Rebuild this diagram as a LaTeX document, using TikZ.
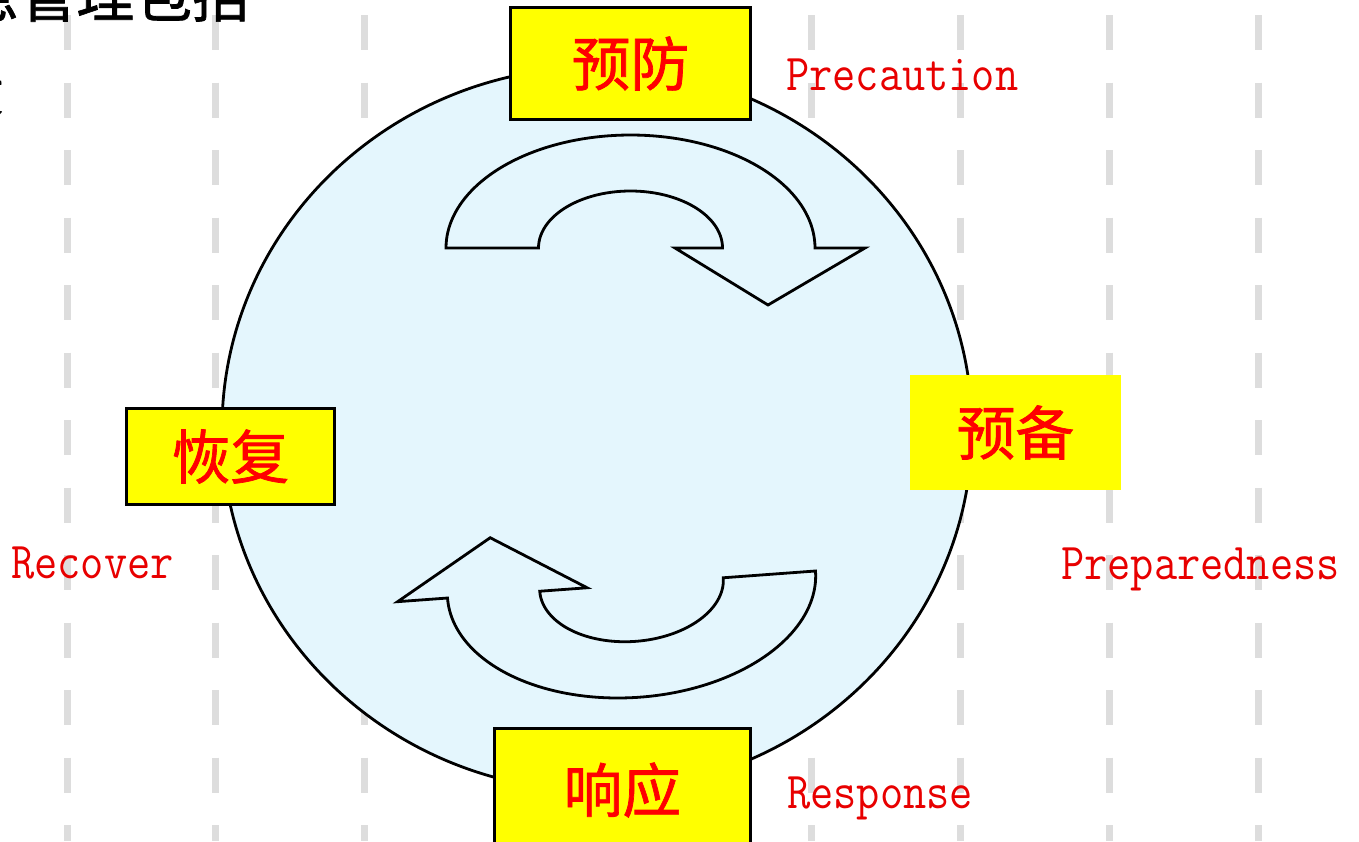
\documentclass[tikz,border=0pt]{standalone}
\usepackage{fontspec}
\newfontfamily\cjk{Noto Sans CJK SC}[FakeBold=1.2]
\definecolor{bgc}{RGB}{228,246,253}
\definecolor{dashc}{RGB}{221,221,221}
\definecolor{lblred}{RGB}{232,0,0}
\definecolor{boxred}{RGB}{255,0,0}
\definecolor{boxyellow}{RGB}{255,255,0}
\begin{document}
\begin{tikzpicture}[x=1bp,y=-1bp,
  gridline/.style={dashc, line width=7bp, dash pattern=on 35bp off 32.5bp},
  stagebox/.style={fill=boxyellow, draw=black, line width=3bp, inner sep=0pt,
    text=boxred, font=\cjk\fontsize{59}{60}\selectfont},
  stageplain/.style={stagebox, draw=none},
  englabel/.style={anchor=base west, inner sep=0pt, text=lblred,
    font=\ttfamily\fontsize{52}{52}\selectfont},
  turnarrow/.style={fill=bgc, draw=black, line width=2.8bp, line join=miter},
  headtext/.style={anchor=base east, inner sep=0pt, text=black,
    font=\cjk\fontsize{58}{60}\selectfont}
]
\useasboundingbox (0,0) rectangle (1359,841);
\fill[white] (0,0) rectangle (1359,841);
% dashed guide lines
\foreach \i in {0,...,8}
  \draw[gridline] ({67+148.9*\i},15) -- ({67+148.9*\i},841);
% heading text (cut off at the page edge)
\node[headtext] (head1) at (250,17) {应急管理包括};
\node[headtext] (head2) at (4,111) {四个阶段};
% big circle
\draw[fill=bgc, line width=2.8bp] (597,429) ellipse [x radius=375, y radius=362];
% top curved arrow
\begin{scope}[shift={(630.5,248)}]
\draw[turnarrow] (-184.5,0)
  -- plot[domain=180:0, samples=90] ({184.5*cos(\x)},{-113*sin(\x)})
  -- (234.5,0) -- (137.5,57) -- (44.5,0) -- (92,0)
  -- plot[domain=0:180, samples=90] ({92*cos(\x)},{-57*sin(\x)})
  -- cycle;
\end{scope}
% bottom curved arrow (same shape turned round)
\begin{scope}[shift={(631.5,584.5)}, rotate=184.2]
\draw[turnarrow] (-184.5,0)
  -- plot[domain=180:0, samples=90] ({184.5*cos(\x)},{-113*sin(\x)})
  -- (234.5,0) -- (137.5,57) -- (44.5,0) -- (92,0)
  -- plot[domain=0:180, samples=90] ({92*cos(\x)},{-57*sin(\x)})
  -- cycle;
\end{scope}
% stage boxes
\node[stagebox, minimum width=241, minimum height=113] (yufang) at (630.5,63.5) {预防};
\node[stagebox, minimum width=209, minimum height=97] (huifu) at (230.5,456.5) {恢复};
\node[stageplain, minimum width=211, minimum height=115] (yubei) at (1015.5,432.5) {预备};
\node[stagebox, minimum width=257, minimum height=124] (xiangying) at (622.5,790) {响应};
% english labels
\node[englabel] (precaution) at (786,90) {\scalebox{0.87}[1]{Precaution}};
\node[englabel] (recover) at (11,578) {\scalebox{0.87}[1]{Recover}};
\node[englabel] (prepared) at (1061,579) {\scalebox{0.87}[1]{Preparedness}};
\node[englabel] (response) at (787,808) {\scalebox{0.87}[1]{Response}};
\end{tikzpicture}
\end{document}
